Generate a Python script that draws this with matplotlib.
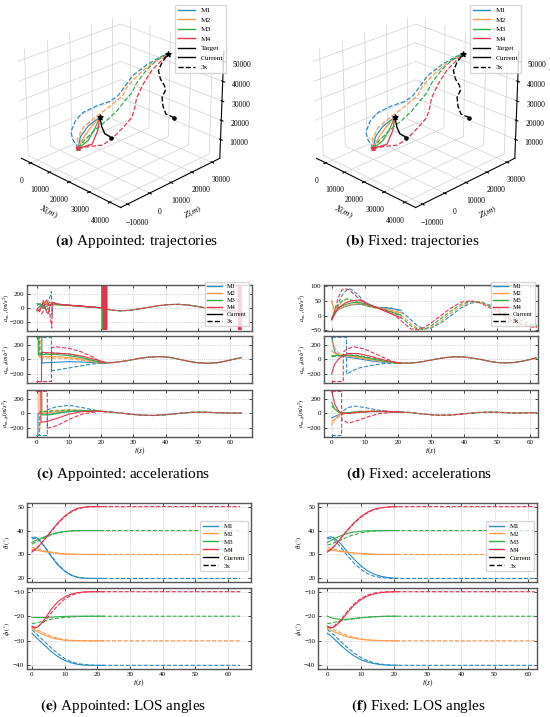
import numpy as np
import matplotlib
matplotlib.use("Agg")
import matplotlib.pyplot as plt
from matplotlib.lines import Line2D

plt.rcParams['font.family'] = ['Liberation Serif', 'DejaVu Serif']
plt.rcParams['mathtext.fontset'] = 'stix'

names = ['M1', 'M2', 'M3', 'M4']
colors = ['#2b8cbe', '#fd9a4c', '#35ad48', '#e8334f']

# ---------------- 3D trajectories (m) ----------------
m0 = [9080, 750, 5000]
cur_y = [750, 3170, 5580, 8000]
cur_x_M1 = [9080, 7460, 8835, 12215]
cur_z_M1 = [5000, 9100, 14300, 19450]
cur_x_M2 = [9080, 9460, 10835, 12215]
cur_z_M2 = [5000, 10200, 15300, 19450]
cur_x_M3 = [9080, 11460, 12335, 12215]
cur_z_M3 = [5000, 9100, 14500, 19450]
cur_x_M4 = [9080, 13460, 13835, 12215]
cur_z_M4 = [5000, 8100, 14300, 19450]

x3_M1 = [9080, 4070, 1060, 1545, 3535, 8525, 13010, 15000, 16490, 18475, 23465, 27955, 29940]
y3_M1 = [750, 2600, 4460, 6310, 8170, 10020, 11870, 13730, 15580, 17440, 19290, 21140, 23000]
z3_M1 = [5000, 6600, 8200, 13700, 17950, 22700, 26100, 28800, 33300, 39100, 45900, 50900, 52500]
y3_M23 = [750, 2975, 5200, 7425, 9650, 11875, 14100, 16325, 18550, 20775, 23000]
x3_M2 = [9080, 6165, 6755, 11340, 13925, 16510, 17095, 17180, 20770, 24855, 29940]
z3_M2 = [5000, 7500, 12900, 19800, 23600, 28000, 29700, 33700, 40700, 46900, 52500]
x3_M3 = [9080, 9165, 11755, 16340, 18925, 20510, 21595, 21680, 24270, 26855, 29940]
z3_M3 = [5000, 7500, 12900, 19800, 24700, 29500, 33100, 37200, 44100, 49000, 52500]
x3_M4 = [9080, 12885, 17190, 19995, 22800, 25105, 24410, 23215, 24020, 26325, 28130, 29940]
y3_M4 = [750, 2770, 4800, 6820, 8840, 10865, 12890, 14910, 16930, 18960, 20980, 23000]
z3_M4 = [5000, 6900, 8600, 12600, 18200, 23600, 27400, 30900, 37000, 44500, 48500, 52500]

tgt_x = [16475, 16280, 14100, 12900, 12215]
tgt_y = [9150, 8860, 8570, 8290, 8000]
tgt_z = [10000, 10600, 11200, 14400, 19450]
tgt3_x = [31800, 30975, 28140, 26800, 26450, 28100, 27800, 25950, 25100, 26800, 29940]
tgt3_y = [24500, 24350, 24200, 24050, 23900, 23750, 23600, 23450, 23300, 23150, 23000]
tgt3_z = [20000, 20200, 20400, 24000, 28600, 32700, 35300, 38000, 41900, 46600, 52500]

# ---------------- (c) Appointed: accelerations ----------------
c_r_cur_t = [0, 1, 2, 3, 4, 5, 8, 12, 16, 20, 21.5]
c_r_cur_M1 = [-20, 30, 60, 40, 80, 50, 42, 30, 16, 2, -5]
c_r_cur_M2 = [-30, 0, 60, 80, 40, 45, 38, 27, 15, 3, -3]
c_r_cur_M3_t = [0, 1, 2, 3, 4, 5, 8, 12, 16, 20.1, 20.2, 20.3, 20.4, 20.5, 20.6]
c_r_cur_M3 = [60, 50, -10, 20, 50, 50, 40, 28, 14, 0, 300, -300, 300, -300, 300]
c_r_cur_M4_t = [0, 1, 2, 2.5, 3, 3.5, 4, 5, 6, 8, 12, 16, 20.5,
                20.6, 20.7, 20.8, 20.9, 21.0, 21.1, 21.2, 21.3, 21.4, 21.5, 21.6, 21.7, 21.8]
c_r_cur_M4 = [-40, -30, 100, 20, -60, -80, 20, 80, 60, 45, 32, 18, 0,
              300, -300, 300, -300, 300, -300, 300, -300, 300, -300, 300, -300, 300]
c_r_3x_M1_t = [0, 1, 2, 3, 4, 4.5, 4.7, 5, 6, 8, 12, 16]
c_r_3x_M1 = [-40, -10, 30, 60, 150, 230, -100, 60, 50, 45, 32, 16]
c_r_3x_M2_t = [0, 1, 2, 3, 4, 5, 6, 8, 12, 16]
c_r_3x_M2 = [-30, -40, 20, 60, 90, 50, 48, 42, 30, 15]
c_r_3x_M3_t = [0, 1, 2, 3, 4, 5, 6, 8, 12, 16]
c_r_3x_M3 = [40, 60, 20, -30, 40, 60, 50, 42, 30, 15]
c_r_3x_M4_t = [0, 1, 1.5, 2, 2.5, 3, 3.5, 4, 4.6, 4.8, 5, 6, 8, 12, 16]
c_r_3x_M4 = [-20, -60, -80, -40, 80, 110, 60, -80, -280, 60, 80, 55, 45, 30, 15]
c_r_tail_t = [20, 23, 26, 29, 32, 35, 38, 41, 44, 47, 50, 53, 56, 59, 62, 63.7]
c_r_tail = [0, -30, -40, -33, -12, 10, 32, 46, 50, 40, 20, -5, -25, -36, -38, -35]
c_r_end_t = [62.6, 62.7, 62.8, 62.9, 63.0, 63.1, 63.2, 63.3, 63.4, 63.5, 63.6]
c_r_end = [300, -300, 300, -300, 300, -300, 300, -300, 300, -300, 300]

c_th_cur_M1_t = [0, 1.5, 1.55, 3, 6, 10, 14, 18, 21.5]
c_th_cur_M1 = [300, 300, -50, -45, -38, -30, -35, -45, -50]
c_th_cur_M2_t = [0, 0.6, 0.65, 3, 6, 10, 14, 18, 21.5]
c_th_cur_M2 = [300, 300, 30, 40, 38, 25, 5, -30, -45]
c_th_cur_M3_t = [0, 0.4, 0.45, 3, 6, 10, 14, 18, 21.5]
c_th_cur_M3 = [300, 300, 60, 70, 68, 50, 25, -20, -45]
c_th_cur_M4_t = [0, 1.4, 1.45, 3, 6, 10, 14, 18, 21.5]
c_th_cur_M4 = [-300, -300, 100, 90, 85, 75, 45, 0, -40]
c_th_3x_M1_t = [0, 4.5, 4.55, 6, 10, 14, 18]
c_th_3x_M1 = [300, 300, -150, -145, -115, -85, -58]
c_th_3x_M2_t = [0, 1.0, 1.05, 4, 8, 12, 16]
c_th_3x_M2 = [300, 300, 20, 20, 15, 0, -25]
c_th_3x_M3_t = [0, 0.8, 0.85, 4, 8, 12, 16]
c_th_3x_M3 = [300, 300, 80, 90, 80, 50, 0]
c_th_3x_M4_t = [0, 4.5, 4.55, 6, 10, 14, 18]
c_th_3x_M4 = [-300, -300, 160, 170, 150, 100, 20]
c_th_tail_t = [20, 23, 26, 29, 32, 35, 38, 41, 44, 47, 50, 53, 56, 59, 62, 63.7]
c_th_tail = [-48, -45, -30, -10, 15, 32, 38, 30, 5, -25, -45, -52, -45, -20, 10, 25]

c_ph_cur_M1_t = [0, 0.3, 0.35, 4, 8, 12, 16, 20, 21.5]
c_ph_cur_M1 = [-300, -300, 0, -10, 15, 30, 35, 28, 25]
c_ph_cur_M2_t = [0, 0.6, 0.65, 4, 8, 12, 16, 20, 21.5]
c_ph_cur_M2 = [300, 300, 0, 10, 30, 40, 38, 28, 25]
c_ph_cur_M3_t = [0, 1.5, 1.55, 4, 8, 12, 16, 20, 21.5]
c_ph_cur_M3 = [300, 300, -20, -20, 15, 35, 38, 28, 25]
c_ph_cur_M4_t = [0, 1.2, 1.25, 3, 6, 10, 14, 18, 21.5]
c_ph_cur_M4 = [300, 300, -120, -110, -70, -10, 25, 30, 25]
c_ph_3x_M1_t = [0, 3.2, 3.25, 6, 10, 14, 18]
c_ph_3x_M1 = [-300, -300, 50, 90, 110, 80, 45]
c_ph_3x_M2_t = [0, 1.0, 1.05, 5, 10, 15]
c_ph_3x_M2 = [-200, -200, 30, 40, 50, 40]
c_ph_3x_M3_t = [0, 0.8, 0.85, 5, 10, 15]
c_ph_3x_M3 = [-300, -300, 20, 30, 45, 40]
c_ph_3x_M4_t = [0, 3.2, 3.25, 6, 10, 14, 18]
c_ph_3x_M4 = [300, 300, -200, -170, -80, -10, 20]
c_ph_tail_t = [20, 24, 28, 32, 36, 40, 44, 48, 52, 56, 60, 63.7]
c_ph_tail = [28, 15, -5, -22, -28, -18, 0, 15, 18, 10, 5, 5]

# ---------------- (d) Fixed: accelerations ----------------
d_r_cur_t = [0, 1, 2, 4, 6, 8, 10, 12, 14, 16, 18, 20, 21]
d_r_cur_M1 = [-12, 10, 20, 30, 36, 38, 36, 32, 28, 26, 24, 20, 18]
d_r_cur_M2 = [50, 10, 20, 32, 38, 40, 37, 32, 27, 22, 18, 12, 9]
d_r_cur_M3 = [-10, 10, 25, 37, 43, 45, 40, 32, 25, 18, 12, 5, 2]
d_r_cur_M4 = [-15, 5, 25, 42, 50, 52, 45, 35, 25, 15, 6, -3, -8]
d_r_3x_t = [0, 1, 2, 3, 4, 5, 6, 8, 10, 12, 14, 16, 18, 20, 22, 24, 26, 28, 30,
            33, 36, 39, 42, 45, 48, 51, 54, 57, 60, 62]
d_r_3x_M1 = [-10, 10, 40, 65, 80, 90, 88, 70, 45, 30, 27, 27, 25, 18, 5, -15, -35, -45, -42,
             -25, 0, 25, 42, 45, 35, 18, 0, -15, -28, -33]
d_r_3x_M2 = [45, 15, 30, 45, 52, 55, 52, 45, 35, 28, 25, 22, 17, 8, -8, -28, -42, -47, -40,
             -18, 8, 32, 46, 47, 33, 14, -5, -22, -33, -36]
d_r_3x_M3 = [-10, 15, 35, 48, 55, 56, 52, 44, 35, 28, 25, 20, 13, 2, -15, -35, -46, -46, -35,
             -10, 15, 38, 48, 45, 30, 10, -10, -26, -36, -38]
d_r_3x_M4 = [-15, 20, 60, 85, 90, 88, 80, 60, 42, 32, 25, 18, 8, -8, -28, -45, -48, -40, -25,
             0, 25, 45, 50, 42, 25, 5, -15, -30, -38, -40]

d_th_cur_t = [0, 0.5, 1, 2, 3, 5, 8, 12, 16, 20, 21]
d_th_cur_M1 = [300, 200, 100, 60, 45, 30, 10, -20, -40, -50, -50]
d_th_cur_M2 = [120, 100, 80, 60, 55, 45, 25, -5, -30, -48, -50]
d_th_cur_M3 = [50, 50, 52, 55, 58, 60, 45, 10, -25, -48, -50]
d_th_cur_M4 = [-200, -120, -60, 0, 40, 80, 80, 40, -10, -45, -50]
d_th_3x_M1_t = [0, 4.5, 4.55, 6, 8, 12, 16]
d_th_3x_M1 = [300, 300, -200, -160, -120, -80, -55]
d_th_3x_M2_t = [0, 1, 2, 3, 5, 8, 12, 16]
d_th_3x_M2 = [250, 150, 90, 70, 55, 35, 0, -30]
d_th_3x_M3_t = [0, 1, 2, 3, 5, 8, 12, 16]
d_th_3x_M3 = [40, 40, 45, 50, 60, 55, 20, -20]
d_th_3x_M4_t = [0, 3.5, 3.55, 5, 7, 10, 14, 18]
d_th_3x_M4 = [-300, -300, 100, 150, 170, 140, 60, -20]
d_th_tail_t = [20, 22.5, 25, 27.5, 30, 32.5, 35, 37.5, 40, 42.5, 45, 47.5, 50, 52.5, 55, 57.5, 60, 62]
d_th_tail = [-48, -50, -46, -30, -9, 12, 28, 36, 33, 18, 0, -25, -42, -48, -42, -25, 0, 23]

d_ph_cur_t = [0, 1, 2, 3, 5, 8, 12, 16, 20, 21]
d_ph_cur_M1 = [-60, -40, -20, -5, 10, 20, 25, 25, 20, 18]
d_ph_cur_M2 = [-150, -80, -30, -5, 10, 20, 25, 25, 20, 18]
d_ph_cur_M3 = [150, 60, 20, 5, 10, 20, 28, 28, 20, 18]
d_ph_cur_M4 = [300, 120, 40, 5, 0, 15, 28, 30, 22, 18]
d_ph_3x_M1_t = [0, 3.0, 3.05, 5, 7, 10, 14, 18]
d_ph_3x_M1 = [-300, -300, 20, 80, 100, 80, 45, 25]
d_ph_3x_M2_t = [0, 1, 2, 3, 5, 8, 12, 16]
d_ph_3x_M2 = [-100, -80, -50, -20, 10, 30, 35, 28]
d_ph_3x_M3_t = [0, 1, 2, 3, 5, 8, 12, 16]
d_ph_3x_M3 = [100, 60, 20, 0, 0, 15, 25, 25]
d_ph_3x_M4_t = [0, 3.0, 3.05, 5, 7, 10, 14, 18]
d_ph_3x_M4 = [300, 300, -80, -130, -110, -60, -5, 15]
d_ph_tail_t = [20, 24, 28, 32, 36, 40, 44, 48, 52, 56, 60, 62]
d_ph_tail = [20, 12, -10, -25, -22, -5, 12, 18, 12, 5, 10, 10]

# ---------------- (e) / (f) LOS angles (deg) ----------------
e_t = [0, 1, 2, 4, 6, 8, 10, 12, 14, 16, 18, 20, 22]
e_t3 = [0, 1, 2, 4, 6, 8, 10, 12, 14, 16, 18, 20, 22, 40, 63.7]
e_th_cur_M1 = [37, 37.3, 36.5, 33, 29, 25.5, 23, 21.3, 20.4, 20.1, 20, 20, 20]
e_th_3x_M1 = [36.5, 36.8, 36.3, 33.2, 29.3, 25.8, 23.2, 21.5, 20.5, 20.1, 20, 20, 20, 20, 20]
e_th_cur_M2 = [32, 31.8, 31.6, 31.1, 30.7, 30.4, 30.2, 30.1, 30, 30, 30, 30, 30]
e_th_3x_M2 = [33, 32.6, 32.2, 31.5, 31, 30.6, 30.3, 30.15, 30.05, 30, 30, 30, 30, 30, 30]
e_th_cur_M3 = [35, 35.7, 36.3, 37.5, 38.5, 39.2, 39.6, 39.85, 39.95, 40, 40, 40, 40]
e_th_3x_M3 = [34.3, 35, 35.7, 37, 38.2, 39, 39.5, 39.8, 39.9, 40, 40, 40, 40, 40, 40]
e_th_cur_M4 = [31, 32, 33.2, 36.5, 40, 43.3, 46, 48, 49.3, 49.8, 50, 50, 50]
e_th_3x_M4 = [31.5, 32.3, 33.4, 36.5, 39.8, 43, 45.7, 47.7, 49, 49.7, 49.95, 50, 50, 50, 50]
e_ph_cur_M1 = [-27, -28.2, -29.5, -32, -34.5, -36.5, -38, -39, -39.6, -39.9, -40, -40, -40]
e_ph_3x_M1 = [-25.5, -26.7, -28, -30.5, -33, -35.3, -37.2, -38.5, -39.3, -39.7, -39.9, -40, -40, -40, -40]
e_ph_cur_M2 = [-25, -25.8, -26.5, -27.8, -28.8, -29.4, -29.8, -29.95, -30, -30, -30, -30, -30]
e_ph_3x_M2 = [-24.5, -25.2, -25.8, -27, -28.2, -29, -29.5, -29.8, -29.9, -30, -30, -30, -30, -30, -30]
e_ph_cur_M3 = [-20.5, -20.5, -20.5, -20.5, -20.4, -20.2, -20.1, -20, -20, -20, -20, -20, -20]
e_ph_3x_M3 = [-23, -22.8, -22.5, -21.8, -21.2, -20.8, -20.5, -20.3, -20.15, -20.05, -20, -20, -20, -20, -20]
e_ph_cur_M4 = [-24, -24.8, -24.3, -21, -17, -14, -12.2, -11, -10.4, -10.1, -10, -10, -10]
e_ph_3x_M4 = [-24.5, -24.5, -24, -22, -18.5, -15.5, -13, -11.5, -10.6, -10.2, -10.05, -10, -10, -10, -10]

f_t = [0, 1, 2, 4, 6, 8, 10, 12, 14, 16, 18, 20, 21]
f_t3 = [0, 1, 2, 4, 6, 8, 10, 12, 14, 16, 18, 20, 21, 40, 62]
f_th_cur_M1 = [37, 37.4, 37, 34.5, 31, 28, 25.3, 23.2, 21.8, 20.9, 20.4, 20.1, 20.05]
f_th_3x_M1 = [36.5, 36.7, 36.2, 33, 29.5, 26.3, 23.8, 22, 20.9, 20.4, 20.1, 20, 20, 20, 20]
f_th_cur_M2 = [32, 31.8, 31.6, 31.2, 30.9, 30.6, 30.4, 30.2, 30.1, 30.05, 30, 30, 30]
f_th_3x_M2 = [33, 32.5, 32.2, 31.5, 31, 30.6, 30.3, 30.15, 30.05, 30, 30, 30, 30, 30, 30]
f_th_cur_M3 = [35, 35.8, 36.5, 37.8, 38.8, 39.4, 39.7, 39.9, 39.95, 40, 40, 40, 40]
f_th_3x_M3 = [34, 34.3, 34.8, 36, 37.3, 38.3, 39, 39.5, 39.8, 39.9, 40, 40, 40, 40, 40]
f_th_cur_M4 = [31, 32, 33.3, 36.7, 40.2, 43.3, 45.8, 47.7, 48.9, 49.5, 49.8, 49.95, 50]
f_th_3x_M4 = [31.2, 32.2, 33.5, 36.8, 40, 43, 45.5, 47.4, 48.7, 49.4, 49.8, 49.95, 50, 50, 50]
f_ph_cur_M1 = [-27, -28, -29.2, -31.8, -34.2, -36.2, -37.7, -38.7, -39.3, -39.7, -39.9, -40, -40]
f_ph_3x_M1 = [-25.5, -26.5, -27.7, -30.3, -32.8, -35, -36.8, -38.1, -39, -39.5, -39.8, -39.95, -40, -40, -40]
f_ph_cur_M2 = [-25, -25.7, -26.3, -27.5, -28.4, -29, -29.4, -29.7, -29.85, -29.95, -30, -30, -30]
f_ph_3x_M2 = [-24.5, -25, -25.5, -26.7, -27.8, -28.6, -29.2, -29.6, -29.8, -29.9, -30, -30, -30, -30, -30]
f_ph_cur_M3 = [-20, -20.5, -20.9, -21.3, -21.2, -20.9, -20.6, -20.4, -20.2, -20.1, -20, -20, -20]
f_ph_3x_M3 = [-23, -22.8, -22.5, -21.9, -21.4, -21, -20.7, -20.4, -20.2, -20.1, -20, -20, -20, -20, -20]
f_ph_cur_M4 = [-24, -24.8, -24.5, -22, -18.5, -15.5, -13.3, -11.8, -10.9, -10.4, -10.15, -10.05, -10]
f_ph_3x_M4 = [-24.5, -24.5, -24, -21.5, -18, -15, -12.8, -11.4, -10.6, -10.2, -10.05, -10, -10, -10, -10]

W, H = 550, 717
fig = plt.figure(figsize=(W / 100, H / 100), dpi=100)


def rect(x0, y0, x1, y1):
    return [x0 / W, 1 - y1 / H, (x1 - x0) / W, (y1 - y0) / H]


def legend_handles(target=False):
    hs = [Line2D([], [], color=c, lw=1.0, label=n) for c, n in zip(colors, names)]
    if target:
        hs.append(Line2D([], [], color='k', lw=1.0, label='Target'))
    hs.append(Line2D([], [], color='k', lw=1.0, label='Current'))
    hs.append(Line2D([], [], color='k', lw=1.0, ls='--', label='3x'))
    return hs


def draw_3d(box, leg_xy):
    ax = fig.add_axes(rect(*box), projection='3d')
    ax.patch.set_alpha(0)
    for axis in (ax.xaxis, ax.yaxis, ax.zaxis):
        axis.set_pane_color((1, 1, 1, 0))
        axis._axinfo['grid']['color'] = '#d0d0d0'
        axis._axinfo['grid']['linewidth'] = 0.5
    cur_x = [cur_x_M1, cur_x_M2, cur_x_M3, cur_x_M4]
    cur_z = [cur_z_M1, cur_z_M2, cur_z_M3, cur_z_M4]
    tx = [x3_M1, x3_M2, x3_M3, x3_M4]
    ty = [y3_M1, y3_M23, y3_M23, y3_M4]
    tz = [z3_M1, z3_M2, z3_M3, z3_M4]
    for i in range(4):
        ax.plot(tx[i], ty[i], tz[i], color=colors[i], lw=0.9, ls='--')
        ax.plot(cur_x[i], cur_y, cur_z[i], color=colors[i], lw=0.9)
    ax.plot(tgt_x, tgt_y, tgt_z, color='k', lw=1.0)
    ax.plot(tgt3_x, tgt3_y, tgt3_z, color='k', lw=1.0, ls='--')
    ax.scatter([tgt_x[0], tgt3_x[0]], [tgt_y[0], tgt3_y[0]], [tgt_z[0], tgt3_z[0]],
               color='k', s=5, depthshade=False)
    ax.scatter([tgt_x[-1], tgt3_x[-1]], [tgt_y[-1], tgt3_y[-1]], [tgt_z[-1], tgt3_z[-1]],
               color='k', marker='*', s=14, depthshade=False)
    for i in range(4):
        ax.scatter([m0[0]], [m0[1]], [m0[2]], color=colors[i], marker='*', s=10, depthshade=False)
    ax.set_xlim(-5000, 45000)
    ax.set_ylim(-13000, 34000)
    ax.set_zlim(0, 55000)
    ax.set_xticks([0, 10000, 20000, 30000, 40000])
    ax.set_yticks([-10000, 0, 10000, 20000, 30000])
    ax.set_zticks([10000, 20000, 30000, 40000, 50000])
    ax.tick_params(labelsize=5.5, pad=0)
    ax.set_xlabel('$X(m)$', fontsize=6.5, labelpad=-4)
    ax.set_ylabel('$Z(m)$', fontsize=6.5, labelpad=-4)
    ax.view_init(elev=25, azim=-45)
    ax.set_box_aspect((4, 4, 3.3), zoom=0.98)
    ax.legend(handles=legend_handles(True), loc='upper right', bbox_to_anchor=leg_xy,
              bbox_transform=fig.transFigure, fontsize=5.3, handlelength=2.4,
              labelspacing=0.45, borderpad=0.35, fancybox=False, edgecolor='#cccccc')
    return ax


def style2d(ax, xlim, ylim, yticks, ylabel, bottom, lab_x):
    ax.set_xlim(*xlim)
    ax.set_ylim(*ylim)
    ax.set_xticks([0, 10, 20, 30, 40, 50, 60])
    ax.set_yticks(yticks)
    ax.grid(True, ls=':', color='#b0b0b0', lw=0.5)
    ax.tick_params(direction='in', length=2, width=0.5, labelsize=5, pad=2,
                   top=True, right=True)
    for s in ax.spines.values():
        s.set_color('#555555')
        s.set_linewidth(1.0)
    ax.set_ylabel(ylabel, fontsize=4.5)
    ax.yaxis.set_label_coords(lab_x, 0.5)
    if bottom:
        ax.set_xlabel('$t(s)$', fontsize=5.5, labelpad=1)
    else:
        ax.tick_params(labelbottom=False)


def draw_lines(ax, cur, dash):
    for i in range(4):
        ax.plot(cur[i][0], cur[i][1], color=colors[i], lw=0.8)
        ax.plot(dash[i][0], dash[i][1], color=colors[i], lw=0.8, ls='--')


# ---- (a), (b)
draw_3d((-20, -7, 255, 225), (230 / W, 1 - 1 / H))
draw_3d((275, -7, 550, 225), (525 / W, 1 - 1 / H))

acc_rows = [(285, 331), (336, 383), (390, 437)]
acc_ylab = [r'$a_{m_i,r}(m/s^2)$', r'$a_{m_i,\theta}(m/s^2)$', r'$a_{m_i,\phi}(m/s^2)$']

# ---- (c)
c_cur = [
    [(c_r_cur_t, c_r_cur_M1), (c_r_cur_t, c_r_cur_M2), (c_r_cur_M3_t, c_r_cur_M3), (c_r_cur_M4_t, c_r_cur_M4)],
    [(c_th_cur_M1_t, c_th_cur_M1), (c_th_cur_M2_t, c_th_cur_M2), (c_th_cur_M3_t, c_th_cur_M3), (c_th_cur_M4_t, c_th_cur_M4)],
    [(c_ph_cur_M1_t, c_ph_cur_M1), (c_ph_cur_M2_t, c_ph_cur_M2), (c_ph_cur_M3_t, c_ph_cur_M3), (c_ph_cur_M4_t, c_ph_cur_M4)],
]
c_heads = [
    [(c_r_3x_M1_t, c_r_3x_M1), (c_r_3x_M2_t, c_r_3x_M2), (c_r_3x_M3_t, c_r_3x_M3), (c_r_3x_M4_t, c_r_3x_M4)],
    [(c_th_3x_M1_t, c_th_3x_M1), (c_th_3x_M2_t, c_th_3x_M2), (c_th_3x_M3_t, c_th_3x_M3), (c_th_3x_M4_t, c_th_3x_M4)],
    [(c_ph_3x_M1_t, c_ph_3x_M1), (c_ph_3x_M2_t, c_ph_3x_M2), (c_ph_3x_M3_t, c_ph_3x_M3), (c_ph_3x_M4_t, c_ph_3x_M4)],
]
c_tails = [(c_r_tail_t, c_r_tail), (c_th_tail_t, c_th_tail), (c_ph_tail_t, c_ph_tail)]
for k, (y0, y1) in enumerate(acc_rows):
    ax = fig.add_axes(rect(27, y0, 252, y1))
    dash = [(h[0] + c_tails[k][0], h[1] + c_tails[k][1]) for h in c_heads[k]]
    draw_lines(ax, c_cur[k], dash)
    if k == 0:
        ax.plot(c_r_end_t, c_r_end, color=colors[3], lw=0.8, ls='--')
        ax.legend(handles=legend_handles(), loc='upper right', bbox_to_anchor=(1.0, 1.14),
                  fontsize=4.6, handlelength=2.4, labelspacing=0.25, borderpad=0.3,
                  edgecolor='#cccccc')
    style2d(ax, (-3.1, 66.9), (-320, 318), [-200, 0, 200], acc_ylab[k], k == 2, -0.066)

# ---- (d)
d_cur = [
    [(d_r_cur_t, v) for v in (d_r_cur_M1, d_r_cur_M2, d_r_cur_M3, d_r_cur_M4)],
    [(d_th_cur_t, v) for v in (d_th_cur_M1, d_th_cur_M2, d_th_cur_M3, d_th_cur_M4)],
    [(d_ph_cur_t, v) for v in (d_ph_cur_M1, d_ph_cur_M2, d_ph_cur_M3, d_ph_cur_M4)],
]
d_dash_r = [(d_r_3x_t, v) for v in (d_r_3x_M1, d_r_3x_M2, d_r_3x_M3, d_r_3x_M4)]
d_heads_th = [(d_th_3x_M1_t, d_th_3x_M1), (d_th_3x_M2_t, d_th_3x_M2), (d_th_3x_M3_t, d_th_3x_M3), (d_th_3x_M4_t, d_th_3x_M4)]
d_heads_ph = [(d_ph_3x_M1_t, d_ph_3x_M1), (d_ph_3x_M2_t, d_ph_3x_M2), (d_ph_3x_M3_t, d_ph_3x_M3), (d_ph_3x_M4_t, d_ph_3x_M4)]
d_dash = [
    d_dash_r,
    [(h[0] + d_th_tail_t, h[1] + d_th_tail) for h in d_heads_th],
    [(h[0] + d_ph_tail_t, h[1] + d_ph_tail) for h in d_heads_ph],
]
d_ylims = [(-52, 103), (-320, 318), (-320, 318)]
d_yticks = [[-50, 0, 50, 100], [-200, 0, 200], [-200, 0, 200]]
for k, (y0, y1) in enumerate(acc_rows):
    ax = fig.add_axes(rect(324, y0, 538, y1))
    draw_lines(ax, d_cur[k], d_dash[k])
    if k == 0:
        ax.legend(handles=legend_handles(), loc='upper right', bbox_to_anchor=(1.0, 1.14),
                  fontsize=4.6, handlelength=2.4, labelspacing=0.25, borderpad=0.3,
                  edgecolor='#cccccc')
    style2d(ax, (-2.3, 62.3), d_ylims[k], d_yticks[k], acc_ylab[k], k == 2, -0.074)

# ---- (e), (f)
los_rows = [(503, 582), (588, 669)]
los_ylab = [r'$\theta_l(^\circ)$', r'$\phi_l(^\circ)$']
los_ylims = [(18.5, 51.5), (-41.5, -8.5)]
los_yticks = [[20, 30, 40, 50], [-40, -30, -20, -10]]
e_sets = [
    ([e_th_cur_M1, e_th_cur_M2, e_th_cur_M3, e_th_cur_M4], [e_th_3x_M1, e_th_3x_M2, e_th_3x_M3, e_th_3x_M4]),
    ([e_ph_cur_M1, e_ph_cur_M2, e_ph_cur_M3, e_ph_cur_M4], [e_ph_3x_M1, e_ph_3x_M2, e_ph_3x_M3, e_ph_3x_M4]),
]
f_sets = [
    ([f_th_cur_M1, f_th_cur_M2, f_th_cur_M3, f_th_cur_M4], [f_th_3x_M1, f_th_3x_M2, f_th_3x_M3, f_th_3x_M4]),
    ([f_ph_cur_M1, f_ph_cur_M2, f_ph_cur_M3, f_ph_cur_M4], [f_ph_3x_M1, f_ph_3x_M2, f_ph_3x_M3, f_ph_3x_M4]),
]
for sets, tc, t3, x0, x1, xl, lx in ((e_sets, e_t, e_t3, 27, 251, (-1.5, 67.0), -0.068),
                                     (f_sets, f_t, f_t3, 318, 537, (-2.8, 62.7), -0.066)):
    for k, (y0, y1) in enumerate(los_rows):
        ax = fig.add_axes(rect(x0, y0, x1, y1))
        cur, dash = sets[k]
        draw_lines(ax, [(tc, v) for v in cur], [(t3, v) for v in dash])
        if k == 0:
            ax.legend(handles=legend_handles(), loc='upper right', bbox_to_anchor=(1.0, 0.82),
                      fontsize=5, handlelength=2.2, labelspacing=0.3, borderpad=0.35,
                      edgecolor='#cccccc')
        style2d(ax, xl, los_ylims[k], los_yticks[k], los_ylab[k], k == 1, lx)

# ---- captions
caps = [
    (137, 241, 'a', 'Appointed: trajectories'),
    (412, 241, 'b', 'Fixed: trajectories'),
    (123, 474, 'c', 'Appointed: accelerations'),
    (419, 474, 'd', 'Fixed: accelerations'),
    (123, 706, 'e', 'Appointed: LOS angles'),
    (418, 706, 'f', 'Fixed: LOS angles'),
]
for cx, cy, letter, text in caps:
    fig.text(cx / W, 1 - cy / H, r'$\mathbf{(' + letter + ')}$ ' + text,
             ha='center', va='center', fontsize=11)

fig.savefig('out.png', dpi=100)
